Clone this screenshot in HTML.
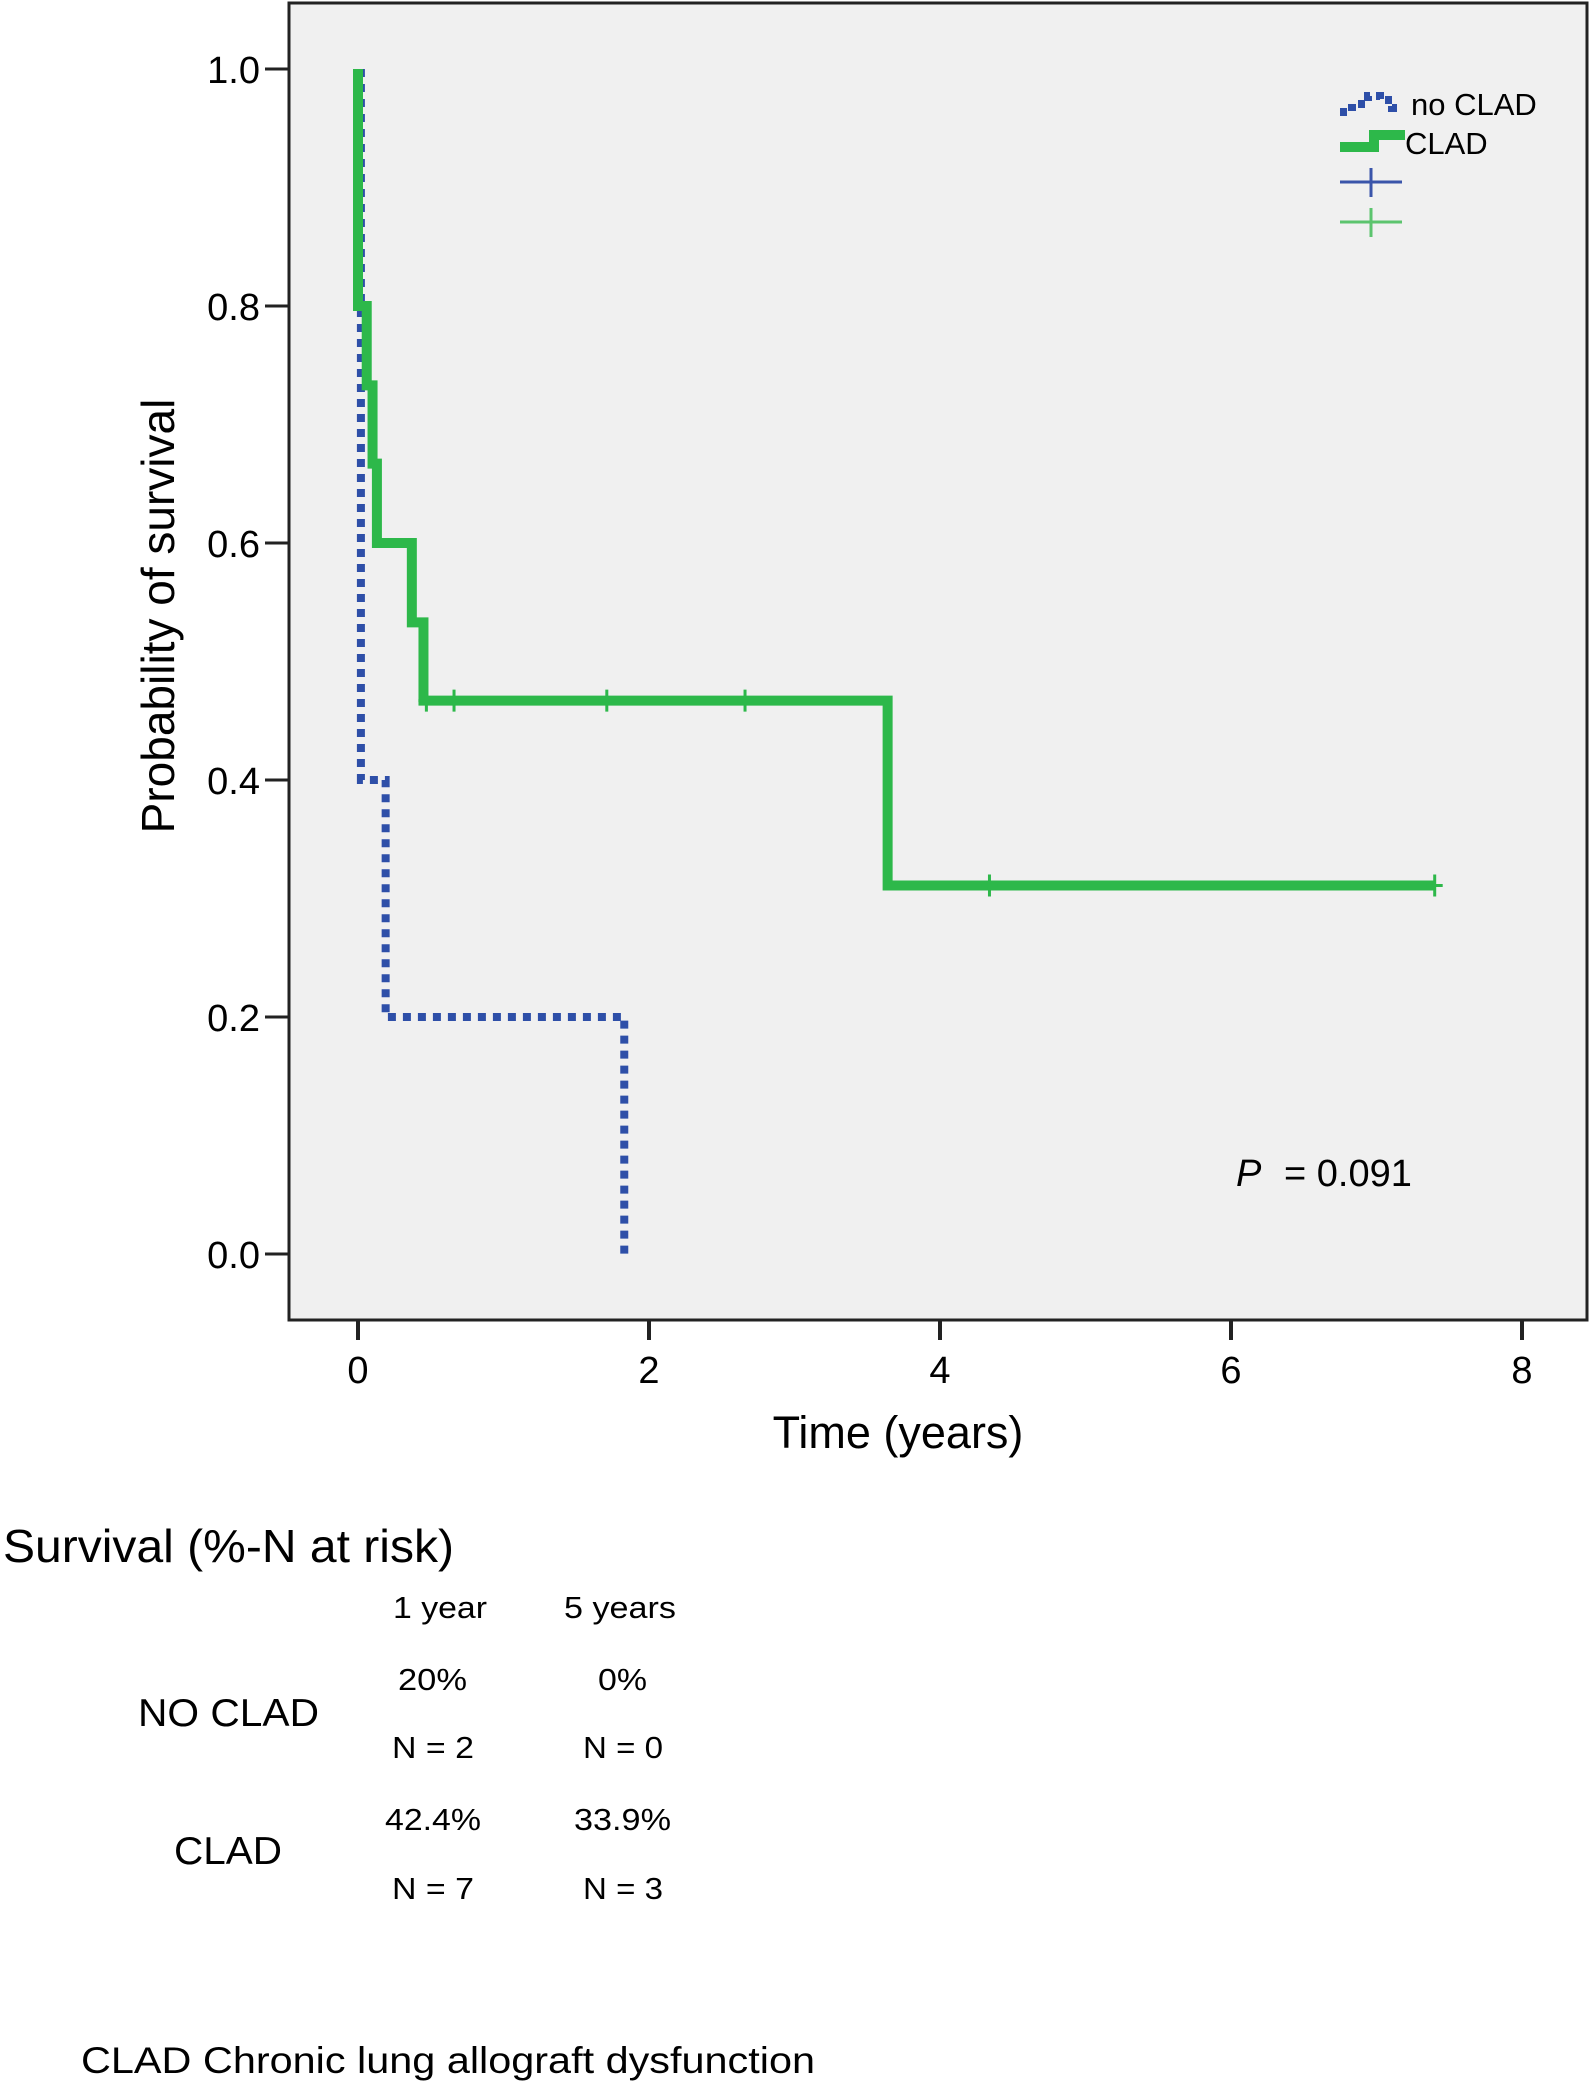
<!DOCTYPE html>
<html><head><meta charset="utf-8"><style>
html,body{margin:0;padding:0;background:#fff;}
svg{display:block;font-family:"Liberation Sans",Arial,sans-serif;}
</style></head><body>
<svg id="chart" width="1592" height="2085" viewBox="0 0 1592 2085" xmlns="http://www.w3.org/2000/svg">
<rect x="289" y="3" width="1298" height="1317" fill="#f0f0f0" stroke="#222" stroke-width="3"/>
<g id="axes"></g>
<g id="series"></g>
<text transform="translate(174,616) rotate(-90)" text-anchor="middle" font-size="46">Probability of survival</text>
<text x="898" y="1448" text-anchor="middle" font-size="45">Time (years)</text>
<g>
<path d="M1340,112 H1352 V104 H1368 V96 H1380 V100 H1392 V108 H1403" fill="none" stroke="#2e4fa8" stroke-width="8" stroke-dasharray="7,6"/>
<path d="M1340,147 H1374 V135 H1405" fill="none" stroke="#2db84a" stroke-width="10"/>
<text x="1411" y="115" font-size="31">no CLAD</text>
<text x="1405" y="154" font-size="31">CLAD</text>
<path d="M1340,182 H1402 M1371,168 V197" stroke="#3a55aa" stroke-width="3"/>
<path d="M1340,222 H1402 M1371,208 V237" stroke="#5cc46e" stroke-width="3"/>
</g>
<text x="1236" y="1186" font-size="38"><tspan font-style="italic">P</tspan><tspan x="1284">= 0.091</tspan></text>
<g>
<text x="3" y="1562" font-size="46" textLength="451" lengthAdjust="spacingAndGlyphs">Survival (%-N at risk)</text>
<text x="393" y="1618" font-size="31" textLength="94" lengthAdjust="spacingAndGlyphs">1 year</text>
<text x="564" y="1618" font-size="31" textLength="112" lengthAdjust="spacingAndGlyphs">5 years</text>
<text x="138" y="1726" font-size="39" textLength="181" lengthAdjust="spacingAndGlyphs">NO CLAD</text>
<text x="174" y="1864" font-size="39" textLength="108" lengthAdjust="spacingAndGlyphs">CLAD</text>
<text x="398" y="1690" font-size="31" textLength="69" lengthAdjust="spacingAndGlyphs">20%</text>
<text x="598" y="1690" font-size="31" textLength="49" lengthAdjust="spacingAndGlyphs">0%</text>
<text x="392" y="1758" font-size="31" textLength="82" lengthAdjust="spacingAndGlyphs">N = 2</text>
<text x="583" y="1758" font-size="31" textLength="80" lengthAdjust="spacingAndGlyphs">N = 0</text>
<text x="385" y="1830" font-size="31" textLength="96" lengthAdjust="spacingAndGlyphs">42.4%</text>
<text x="574" y="1830" font-size="31" textLength="97" lengthAdjust="spacingAndGlyphs">33.9%</text>
<text x="392" y="1899" font-size="31" textLength="82" lengthAdjust="spacingAndGlyphs">N = 7</text>
<text x="583" y="1899" font-size="31" textLength="80" lengthAdjust="spacingAndGlyphs">N = 3</text>
</g>
<text x="81" y="2073" font-size="37" textLength="734" lengthAdjust="spacingAndGlyphs">CLAD Chronic lung allograft dysfunction</text>
</svg>
<script>
const yTicks = [0, 0.2, 0.4, 0.6, 0.8, 1.0];
const yTickLabels = ["0.0", "0.2", "0.4", "0.6", "0.8", "1.0"];
const xTicks = [0, 2, 4, 6, 8];
const xTickLabels = ["0", "2", "4", "6", "8"];
// drop times and survival level after each drop
const cladDropTimes = [0.0, 0.06, 0.1, 0.13, 0.37, 0.45, 3.64];
const cladSurv = [0.8, 0.733, 0.667, 0.6, 0.533, 0.467, 0.311];
const cladEnd = 7.4;
const cladCensor = [0.47, 0.66, 1.71, 2.66, 4.34, 7.4];
const noCladDropTimes = [0.02, 0.19, 1.83];
const noCladSurv = [0.4, 0.2, 0.0];
const noCladEnd = 1.83;

const NS = "http://www.w3.org/2000/svg";
function xScale(t){ return 358 + t * 145.5; }
function yScale(s){ return 1254 - s * 1185; }
function mk(tag, attrs, parent){ const e = document.createElementNS(NS, tag); for (const k in attrs) e.setAttribute(k, attrs[k]); parent.appendChild(e); return e; }
const axes = document.getElementById('axes');
const series = document.getElementById('series');

yTicks.forEach((v, i) => {
  const tk = mk('line', {x1: 265, x2: 289, y1: yScale(v), y2: yScale(v), stroke: '#222', 'stroke-width': 3}, axes);
  
  
  const lb = mk('text', {x: 260, y: yScale(v) + 14, 'text-anchor': 'end', 'font-size': 38}, axes);
  
  
  lb.textContent = yTickLabels[i];
});
xTicks.forEach((v, i) => {
  const tk = mk('line', {x1: xScale(v), x2: xScale(v), y1: 1320, y2: 1340, stroke: '#222', 'stroke-width': 4}, axes);
  
  
  const lb = mk('text', {x: xScale(v), y: 1383, 'text-anchor': 'middle', 'font-size': 38}, axes);
  
  
  lb.textContent = xTickLabels[i];
});

function stepPath(times, surv, end){
  let d = 'M' + xScale(times[0]) + ',' + yScale(1.0);
  for (let i = 0; i < times.length; i++){
    d += ' H' + xScale(times[i]) + ' V' + yScale(surv[i]);
  }
  d += ' H' + xScale(end);
  return d;
}
function survAt(times, surv, t){
  let s = 1.0;
  for (let i = 0; i < times.length; i++) if (times[i] <= t) s = surv[i];
  return s;
}
const nc = mk('path', {d: stepPath(noCladDropTimes, noCladSurv, noCladEnd), fill: 'none', stroke: '#2e4fa8', 'stroke-width': 8, 'stroke-dasharray': '8,7'}, series);


const cl = mk('path', {d: stepPath(cladDropTimes, cladSurv, cladEnd), fill: 'none', stroke: '#2db84a', 'stroke-width': 10}, series);


cladCensor.forEach(t => {
  const s = survAt(cladDropTimes, cladSurv, t);
  const c = mk('path', {d: 'M' + (xScale(t) - 8) + ',' + yScale(s) + ' H' + (xScale(t) + 8) + ' M' + xScale(t) + ',' + (yScale(s) - 11) + ' V' + (yScale(s) + 11), stroke: '#2db84a', 'stroke-width': 3}, series);
  
  
});
</script>
</body></html>
